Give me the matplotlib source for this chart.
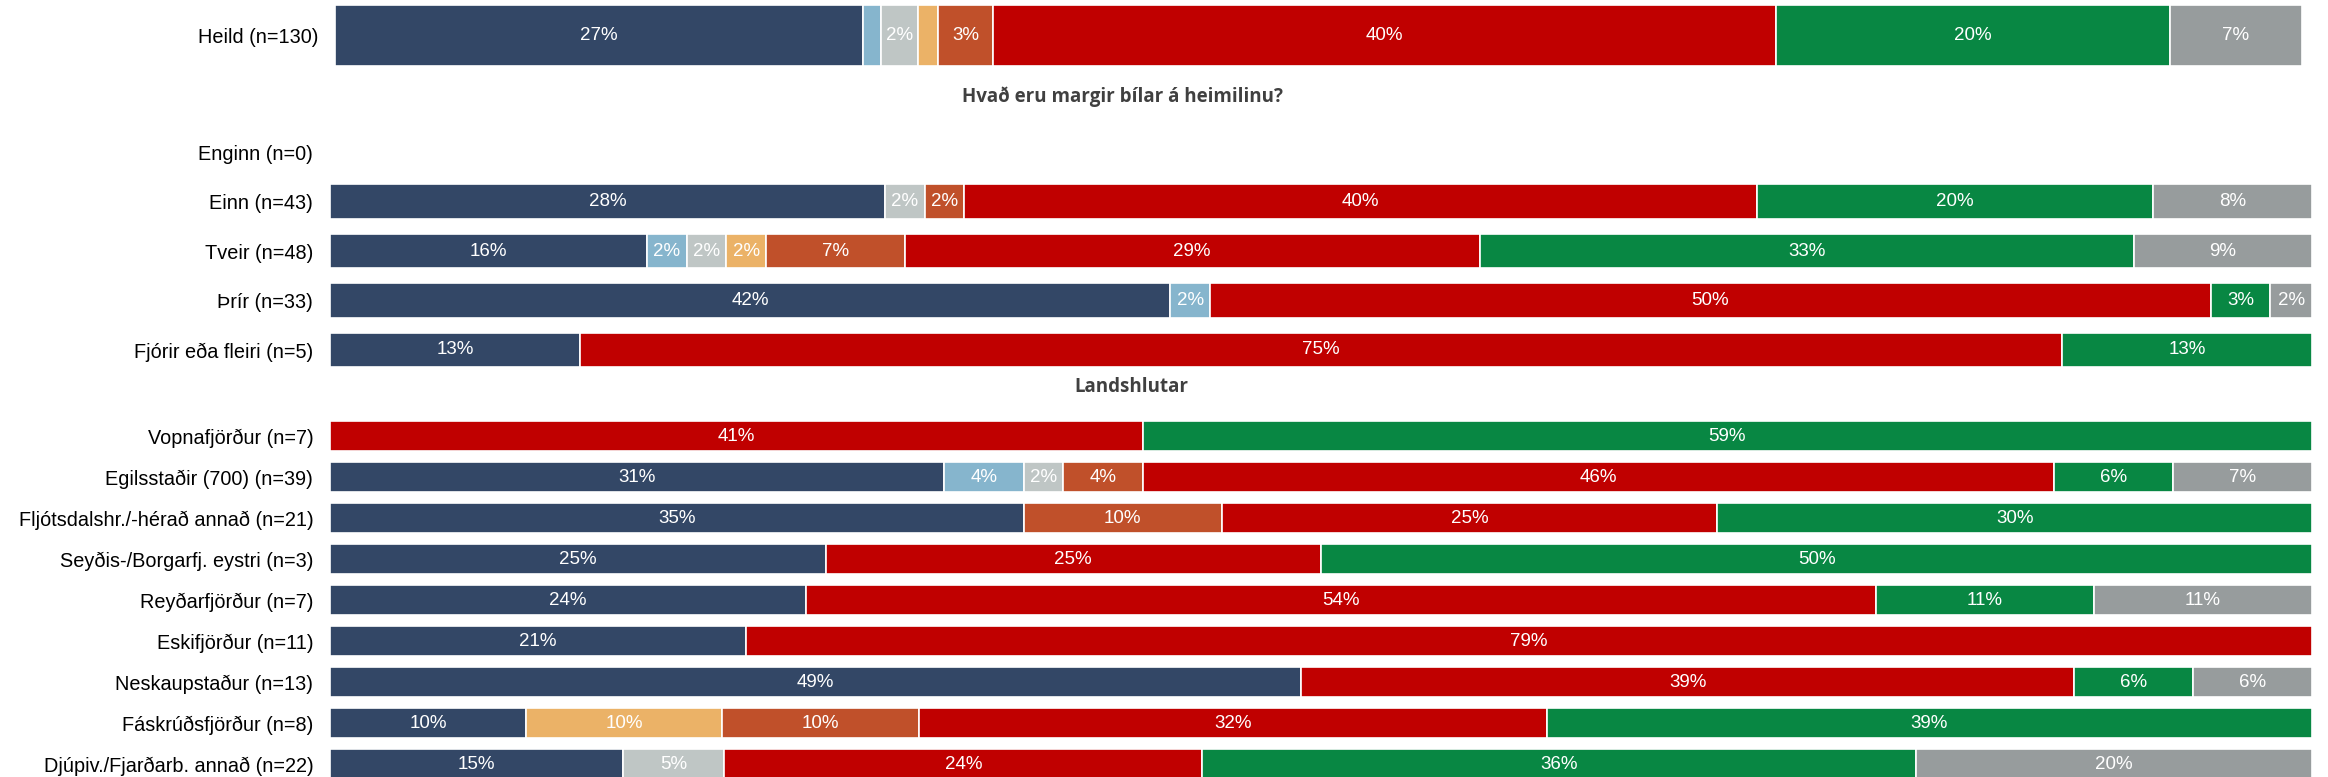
import matplotlib.pyplot as plt

plt.rcParams['font.family'] = ['Liberation Sans', 'DejaVu Sans']

# answer categories, left to right
colors = ['#334766', '#86B5CD', '#BFC6C5', '#EBB267', '#C0502A', '#C00000', '#088743', '#979C9D']

heild_labels = ['Heild (n=130)']
heild_vals = [[26.7, 0.9, 1.9, 1.0, 2.8, 39.6, 19.9, 6.7]]

car_labels = ['Enginn (n=0)', 'Einn (n=43)', 'Tveir (n=48)', 'Þrír (n=33)',
              'Fjórir eða fleiri (n=5)']
car_vals = [
    [0, 0, 0, 0, 0, 0, 0, 0],
    [28, 0, 2, 0, 2, 40, 20, 8],
    [16, 2, 2, 2, 7, 29, 33, 9],
    [42.4, 2.0, 0, 0, 0, 50.5, 3.0, 2.1],
    [12.6, 0, 0, 0, 0, 74.8, 12.6, 0],
]

region_labels = ['Vopnafjörður (n=7)', 'Egilsstaðir (700) (n=39)',
                 'Fljótsdalshr./-hérað annað (n=21)', 'Seyðis-/Borgarfj. eystri (n=3)',
                 'Reyðarfjörður (n=7)', 'Eskifjörður (n=11)', 'Neskaupstaður (n=13)',
                 'Fáskrúðsfjörður (n=8)', 'Djúpiv./Fjarðarb. annað (n=22)']
region_vals = [
    [0, 0, 0, 0, 0, 41, 59, 0],
    [31, 4, 2, 0, 4, 46, 6, 7],
    [35, 0, 0, 0, 10, 25, 30, 0],
    [25, 0, 0, 0, 0, 25, 50, 0],
    [24, 0, 0, 0, 0, 54, 11, 11],
    [21, 0, 0, 0, 0, 79, 0, 0],
    [49, 0, 0, 0, 0, 39, 6, 6],
    [9.9, 0, 0, 9.9, 9.9, 31.7, 38.6, 0],
    [14.8, 0, 5.1, 0, 0, 24.1, 36.0, 20.0],
]


def draw(ax, labels, vals, height):
    for i, row in enumerate(vals):
        left = 0
        for j, v in enumerate(row):
            if v > 0:
                ax.barh(i, v, left=left, height=height, color=colors[j],
                        edgecolor='white', linewidth=1.2)
                if v >= 1.5:
                    ax.text(left + v / 2, i, f'{v:.0f}%', ha='center', va='center',
                            color='white', fontsize=13.5)
            left += v
    ax.set_xlim(0, 100)
    ax.set_ylim(len(labels) - 0.5, -0.5)
    ax.set_yticks(range(len(labels)))
    ax.set_yticklabels(labels, fontsize=14.3)
    ax.tick_params(axis='y', length=0, pad=12)
    ax.set_xticks([])
    for s in ax.spines.values():
        s.set_visible(False)


fig = plt.figure(figsize=(23.28, 7.77), dpi=100)

ax1 = fig.add_axes([0.1439, 0.9151, 0.8492, 0.0785])
draw(ax1, heild_labels, heild_vals, 1.0)

ax2 = fig.add_axes([0.14175, 0.5177, 0.8514, 0.3185])
draw(ax2, car_labels, car_vals, 0.69)

ax3 = fig.add_axes([0.14175, -0.0097, 0.8514, 0.4749])
draw(ax3, region_labels, region_vals, 0.71)

fig.text(0.482, 0.875, 'Hvað eru margir bílar á heimilinu?', ha='center', va='center',
         fontsize=13.5, fontweight='bold', color='#404040', family='Open Sans')
fig.text(0.486, 0.502, 'Landshlutar', ha='center', va='center',
         fontsize=13.5, fontweight='bold', color='#404040', family='Open Sans')

fig.savefig('out.png', dpi=100)
